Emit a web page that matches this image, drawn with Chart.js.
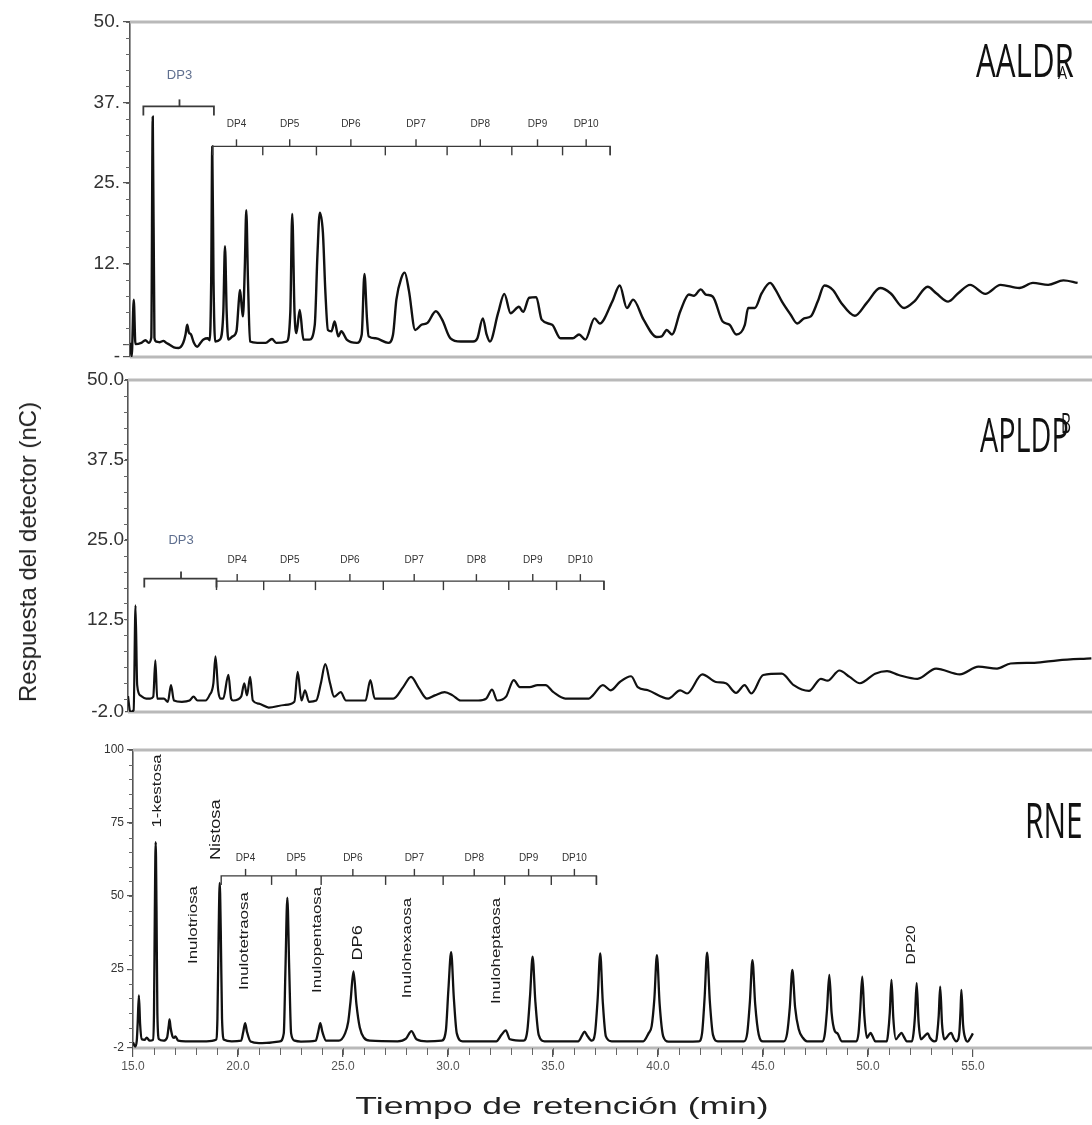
<!DOCTYPE html>
<html>
<head>
<meta charset="utf-8">
<title>Cromatogramas</title>
<script src="https://cdn.jsdelivr.net/npm/chart.js@4.4.1/dist/chart.umd.min.js"></script>
<style>
  body { margin: 0; background: #fff; }
  #page { position: relative; width: 1092px; height: 1125px; overflow: hidden; background: #fff; }
  canvas { position: absolute; left: 0; }
  .tag { position: absolute; font-family: 'Open Sans', sans-serif; color: #111; line-height: 1; transform-origin: 0 0; white-space: nowrap; }
  .title { position: absolute; font-family: 'Liberation Sans', Arial, sans-serif; color: #222; white-space: nowrap; line-height: 1; }
</style>
</head>
<body>
<div id="page">
  <canvas id="cA" width="1092" height="372" style="top:0px"></canvas>
  <canvas id="cB" width="1092" height="355" style="top:372px"></canvas>
  <canvas id="cC" width="1092" height="390" style="top:735px"></canvas>

  <div class="tag" style="left:976px;top:36px;font-size:46px;transform:scaleX(0.68)">AALDR</div>
  <div class="tag" style="left:1058px;top:63px;font-size:18px;transform:scaleX(0.8)">A</div>
  <div class="tag" style="left:980px;top:410px;font-size:48px;transform:scaleX(0.6)">APLDP</div>
  <div class="tag" style="left:1061px;top:408px;font-size:28px;transform:scaleX(0.55)">B</div>
  <div class="tag" style="left:1025px;top:795px;font-size:49px;transform:scaleX(0.61)">RNE</div>

  <div class="title" style="left:28px;top:552px;font-size:24px;transform:translate(-50%,-50%) rotate(-90deg)">Respuesta del detector (nC)</div>
  <div class="title" style="left:562px;top:1106px;font-size:24px;transform:translate(-50%,-50%) scaleX(1.48)">Tiempo de retención (min)</div>
</div>
<script>
// AALDR (panel superior)
const aaldrTime = [15.0, 15.08, 15.18, 15.26, 15.54, 15.74, 15.9, 16.02, 16.09, 16.17, 16.25, 16.43, 16.6, 16.73, 16.9, 17.1, 17.33, 17.55, 17.66, 17.74, 17.82, 17.92, 18.05, 18.22, 18.4, 18.52, 18.72, 18.82, 18.89, 18.94, 19.0, 19.08, 19.31, 19.47, 19.55, 19.63, 19.71, 19.91, 20.1, 20.22, 20.27, 20.36, 20.41, 20.5, 20.57, 20.65, 20.75, 21.1, 21.5, 21.8, 22.0, 22.5, 22.68, 22.77, 22.88, 22.97, 23.13, 23.31, 23.59, 23.85, 23.98, 24.09, 24.24, 24.36, 24.48, 24.65, 24.8, 24.98, 25.12, 25.38, 25.87, 26.1, 26.23, 26.35, 26.43, 26.77, 27.37, 27.6, 27.76, 28.0, 28.16, 28.36, 28.66, 28.96, 29.25, 29.65, 29.95, 30.35, 30.84, 31.44, 31.64, 31.9, 32.08, 32.24, 32.63, 32.93, 33.23, 33.63, 33.83, 34.12, 34.46, 34.72, 35.22, 35.62, 36.21, 36.51, 36.81, 37.25, 37.5, 38.1, 38.46, 38.8, 39.1, 39.6, 40.23, 40.47, 40.71, 40.96, 41.36, 41.77, 42.01, 42.34, 42.58, 42.91, 43.39, 43.72, 44.04, 44.45, 44.61, 44.93, 45.26, 45.66, 45.91, 46.23, 46.64, 46.96, 47.29, 47.61, 47.94, 48.26, 48.67, 49.07, 49.72, 50.29, 50.94, 51.43, 52.08, 52.56, 53.21, 53.62, 54.19, 54.67, 55.24, 55.97, 56.7, 57.6, 58.25, 58.98, 59.71, 60.39];
const aaldrResp = [0.2, -1.9, 6.9, 0.0, 0.2, 0.6, 0.2, 1.0, 35.3, 1.0, 0.4, 0.3, 0.5, 0.2, -0.1, -0.5, -0.6, 0.2, 1.5, 3.0, 1.8, 1.5, 0.3, -0.4, 0.3, 0.7, 0.9, 0.6, 10, 30.7, 10, 0.4, 0.7, 5, 15.2, 5, 0.7, 1.2, 2, 7, 8.4, 5.5, 4.3, 12, 20.8, 10, 0.4, 0.2, 0.2, 0.8, 0.2, 0.4, 5, 20.2, 5, 1.7, 5.3, 0.7, 0.7, 3, 14, 20.4, 17.3, 8, 2.2, 2.0, 3.5, 1.2, 2.0, 0.7, 0.2, 1.5, 10.9, 4, 1.2, 0.9, 0.2, 1.5, 6.9, 10.3, 11.1, 8.3, 2.2, 3.0, 3.3, 5.1, 3.8, 0.9, 0.4, 0.4, 0.9, 4.0, 1.5, 0.4, 4.8, 7.8, 4.8, 5.8, 5.0, 7.2, 7.3, 3.8, 3.0, 0.9, 0.9, 1.5, 0.7, 4.0, 3.2, 6.6, 9.1, 5.6, 6.9, 3.8, 1.1, 1.2, 2.2, 1.5, 5.1, 7.7, 7.5, 8.5, 7.7, 7.4, 3.5, 3.0, 1.5, 3.0, 5.6, 5.6, 7.9, 9.5, 8.5, 6.6, 4.6, 3.2, 4.0, 4.3, 6.6, 9.1, 8.4, 6.4, 4.4, 6.4, 8.7, 7.9, 5.6, 6.6, 8.9, 7.9, 6.6, 7.9, 9.2, 7.8, 9.2, 8.7, 9.5, 9.2, 9.9, 9.5];

// APLDP (panel central)
const apldpTime = [15.0, 15.11, 15.27, 15.36, 15.44, 15.59, 15.87, 16.06, 16.21, 16.31, 16.4, 16.72, 16.91, 17.06, 17.2, 17.58, 17.95, 18.14, 18.33, 18.71, 18.9, 19.09, 19.19, 19.32, 19.43, 19.56, 19.81, 19.94, 20.04, 20.42, 20.57, 20.7, 20.85, 20.98, 21.27, 21.74, 22.5, 22.97, 23.13, 23.31, 23.48, 23.67, 24.02, 24.24, 24.45, 24.68, 24.87, 25.19, 25.44, 26.38, 26.61, 26.82, 27.71, 28.18, 28.56, 28.94, 29.32, 29.7, 30.17, 30.55, 30.93, 31.78, 32.16, 32.44, 32.69, 33.11, 33.48, 33.77, 34.24, 34.62, 35.0, 35.38, 35.95, 36.7, 37.08, 37.27, 37.75, 38.13, 38.56, 39.1, 39.42, 39.91, 40.88, 41.45, 41.78, 42.51, 43.16, 43.64, 44.13, 44.54, 44.86, 45.43, 46.32, 46.89, 47.62, 48.19, 48.51, 49.08, 49.57, 50.06, 50.79, 51.36, 51.92, 52.82, 53.71, 54.85, 55.74, 56.63, 57.28, 58.42, 59.55, 61.15];
const apldpResp = [0.5, -2.0, -1.7, 14.7, 2.2, 0.6, 0.1, 0.1, 0.4, 6.1, 0.1, 0.1, -0.4, 2.2, -0.2, -0.4, -0.2, 0.4, -0.2, -0.2, 0.6, 2.5, 6.7, 1.4, 0.1, 0.1, 3.8, 0.1, -0.2, 0.4, 2.5, 0.6, 3.5, -0.2, -0.7, -1.3, -0.9, -0.4, 4.3, -0.2, 1.4, -0.4, -0.2, 2.5, 5.5, 2.5, 0.4, 1.1, -0.2, -0.2, 3.0, 0.1, 0.1, 1.9, 3.5, 1.7, 0.1, 0.6, 1.1, 0.6, -0.2, -0.2, 0.1, 1.5, -0.2, 0.4, 3.0, 1.9, 1.9, 2.2, 2.2, 1.1, 0.1, 0.1, 0.1, 0.6, 2.2, 1.4, 2.7, 3.6, 1.9, 1.4, 0.1, 1.4, 0.9, 3.9, 2.7, 2.5, 1.0, 2.2, 0.9, 3.8, 4.0, 2.2, 1.3, 3.2, 2.9, 4.5, 3.5, 2.5, 4.0, 4.4, 3.8, 3.2, 4.8, 3.9, 5.1, 4.8, 5.6, 5.7, 6.1, 6.4];

// RNE (panel inferior)
const rneTime = [
  15.0, 15.1, 15.18, 15.22, 15.28, 15.34, 15.42, 15.55, 15.65, 15.8, 15.95,
  16.0, 16.04, 16.08, 16.12, 16.16, 16.24, 16.45, 16.62, 16.7, 16.74, 16.79, 16.88, 16.95, 17.02, 17.15,
  17.5, 18.0, 18.5, 18.95, 19.02, 19.08, 19.13, 19.18, 19.24, 19.34, 19.7,
  20.15, 20.25, 20.34, 20.43, 20.6, 21.0, 21.5, 22.0, 22.18, 22.26, 22.35, 22.44, 22.53, 22.7,
  23.0, 23.7, 23.82, 23.92, 24.02, 24.2, 24.8, 25.1, 25.25, 25.36, 25.5, 25.64, 25.8, 26.0, 26.3,
  27.6, 28.0, 28.26, 28.5, 29.0, 29.7, 29.9, 30.02, 30.15, 30.28, 30.42, 30.7,
  32.3, 32.55, 32.75, 32.95, 33.6, 33.78, 33.91, 34.03, 34.16, 34.32, 34.6,
  36.2, 36.4, 36.5, 36.65, 36.85, 37.0, 37.13, 37.25, 37.37, 37.52, 37.8,
  39.3, 39.55, 39.7, 39.83, 39.95, 40.08, 40.25, 40.5,
  41.95, 42.1, 42.22, 42.34, 42.47, 42.62, 42.85,
  44.1, 44.25, 44.38, 44.5, 44.63, 44.8, 45.0,
  46.0, 46.15, 46.28, 46.4, 46.53, 46.7, 46.9, 47.1,
  47.85, 47.95, 48.05, 48.16, 48.27, 48.42, 48.55, 48.75,
  49.45, 49.55, 49.63, 49.73, 49.83, 49.95, 50.05, 50.13, 50.22, 50.35,
  50.9, 50.96, 51.04, 51.12, 51.21, 51.33, 51.5, 51.6, 51.7, 51.85,
  52.1, 52.17, 52.24, 52.32, 52.41, 52.52, 52.75, 52.85, 52.95, 53.15,
  53.25, 53.3, 53.37, 53.44, 53.53, 53.64, 53.88, 53.97, 54.07, 54.2,
  54.3, 54.36, 54.41, 54.45, 54.53, 54.65, 54.75, 54.88, 55.0
];
const rneResp = [
  0, -1.5, 0.5, 6, 16, 6, 1, 0.8, 1.5, 0.5, 0.8,
  10, 45, 68.5, 45, 10, 1, 0.5, 1.5, 5.5, 7.8, 5, 2, 1.5, 2, 0.5,
  0.3, 0.3, 0.3, 0.8, 8, 38, 54.5, 38, 8, 0.8, 0.3,
  0.5, 3.5, 6.5, 3.5, 0.2, -0.3, -0.2, 0.3, 3, 25, 49.5, 25, 3, 0.5,
  0.2, 0.5, 3.5, 6.5, 3.5, 0.5, 0.5, 3, 7, 14, 24.2, 13, 5, 1.5, 0.5,
  0.3, 1.2, 3.8, 1, 0.3, 0.5, 4, 18, 30.8, 15, 3, 0.3,
  0.3, 2.5, 4, 1, 0.5, 4, 16, 29.3, 14, 2.5, 0.3,
  0.3, 2.5, 3.6, 2, 0.5, 3, 15, 30.4, 14, 2, 0.3,
  0.3, 3, 5.5, 15, 29.8, 13, 2, 0.2,
  0.3, 3, 15, 30.6, 14, 2.5, 0.3,
  0.3, 3, 14, 28.1, 13, 2.5, 0.3,
  0.3, 3, 12, 24.7, 12, 4.5, 1.5, 0.3,
  0.3, 3, 11, 23, 10, 3.8, 3, 0.3,
  0.3, 3, 11, 22.4, 9, 1.5, 2.5, 3.2, 2, 0.3,
  0.3, 3, 10, 21.3, 8, 1, 2.5, 3.2, 2, 0.3,
  0.3, 3, 9, 20.2, 7, 1, 2.5, 3, 1.5, 0.3,
  0.5, 3, 9, 19, 6, 1, 2.8, 3.2, 1.5, 0.3,
  1, 4, 11, 17.9, 6, 1, 0.2, 1.5, 3
];

// ejes
const aaldrYTicks = [-2, 0, 12.5, 25, 37.5, 50];
const aaldrYLabels = ['-', '', '12.', '25.', '37.', '50.'];
const apldpYTicks = [-2, 12.5, 25, 37.5, 50];
const apldpYLabels = ['-2.0', '12.5', '25.0', '37.5', '50.0'];
const rneYTicks = [-2, 25, 50, 75, 100];
const rneYLabels = ['-2', '25', '50', '75', '100'];
const rneXTicks = [15, 20, 25, 30, 35, 40, 45, 50, 55];
const rneXLabels = ['15.0', '20.0', '25.0', '30.0', '35.0', '40.0', '45.0', '50.0', '55.0'];

// grupos DP (corchetes)
const dpNames = ['DP4', 'DP5', 'DP6', 'DP7', 'DP8', 'DP9', 'DP10'];
const aaldrDpMid = [20.1, 22.65, 25.58, 28.7, 31.78, 34.52, 36.85];
const aaldrDpDiv = [21.36, 23.93, 27.23, 30.19, 33.29, 35.72, 38.0];
const apldpDpMid = [20.23, 22.75, 25.63, 28.71, 31.69, 34.39, 36.67];
const apldpDpDiv = [21.5, 23.98, 27.23, 30.11, 33.24, 35.53, 37.8];
const rneDpMid = [20.36, 22.77, 25.47, 28.4, 31.25, 33.84, 36.02];
const rneDpDiv = [21.6, 23.96, 27.03, 29.77, 32.7, 34.92, 37.07];

// nombres de picos (RNE)
const rnePeakNames = ['1-kestosa', 'Nistosa', 'Inulotriosa', 'Inulotetraosa', 'Inulopentaosa', 'DP6', 'Inulohexaosa', 'Inuloheptaosa', 'DP20'];
const rnePeakTime = [16.14, 18.94, 17.9, 20.3, 23.77, 25.7, 28.07, 32.33, 52.1];
const rnePeakLevel = [86, 72.7, 40.1, 34.6, 35, 34, 32.2, 31.2, 33.3];

const narrow = "'Liberation Sans Narrow', 'Liberation Sans', Arial, sans-serif";

// anotaciones por panel
const annots = {
  cA: {
    minorY: 2.5,
    brackets: [
      { start: 15.64, end: 19.02, level: 36.9, mids: [17.37], divs: [], names: ['DP3'], nameLevel: 41.7, big: true },
      { start: 18.96, end: 38.0, level: 30.7, mids: aaldrDpMid, divs: aaldrDpDiv, names: dpNames, nameLevel: 34.2 }
    ]
  },
  cB: {
    minorY: 2.5,
    brackets: [
      { start: 15.78, end: 19.24, level: 18.9, mids: [17.54], divs: [], names: ['DP3'], nameLevel: 24.9, big: true },
      { start: 19.24, end: 37.8, level: 18.5, mids: apldpDpMid, divs: apldpDpDiv, names: dpNames, nameLevel: 21.75 }
    ]
  },
  cC: {
    minorY: 5,
    minorX: 1,
    brackets: [
      { start: 19.2, end: 37.07, level: 56.9, mids: rneDpMid, divs: rneDpDiv, names: dpNames, nameLevel: 63 }
    ],
    peaks: true
  }
};

const annotPlugin = {
  id: 'chromAnnot',
  beforeDatasetsDraw(chart) {
    const a = annots[chart.canvas.id];
    const { ctx, chartArea: ca, scales: { x, y } } = chart;
    ctx.save();
    // lineas grises de marco arriba y abajo
    ctx.strokeStyle = '#b9b9b9';
    ctx.lineWidth = 3;
    [ca.top, ca.bottom].forEach(py => {
      ctx.beginPath(); ctx.moveTo(ca.left, py); ctx.lineTo(ca.right, py); ctx.stroke();
    });
    // marcas menores eje y
    ctx.strokeStyle = '#666';
    ctx.lineWidth = 1;
    for (let v = 0; v <= y.max; v += a.minorY) {
      const py = Math.round(y.getPixelForValue(v)) + 0.5;
      ctx.beginPath(); ctx.moveTo(ca.left - 4, py); ctx.lineTo(ca.left, py); ctx.stroke();
    }
    // marcas menores eje x
    if (a.minorX) {
      for (let t = 16; t < 55; t += a.minorX) {
        const px = Math.round(x.getPixelForValue(t)) + 0.5;
        ctx.beginPath(); ctx.moveTo(px, ca.bottom); ctx.lineTo(px, ca.bottom + 7); ctx.stroke();
      }
    }
    ctx.restore();
  },
  afterDatasetsDraw(chart) {
    const a = annots[chart.canvas.id];
    const { ctx, scales: { x, y } } = chart;
    ctx.save();
    a.brackets.forEach(b => {
      const py = y.getPixelForValue(b.level);
      ctx.strokeStyle = '#3a3a3a';
      ctx.lineWidth = b.big ? 1.8 : 1.4;
      ctx.beginPath();
      ctx.moveTo(x.getPixelForValue(b.start), py + 9);
      ctx.lineTo(x.getPixelForValue(b.start), py);
      ctx.lineTo(x.getPixelForValue(b.end), py);
      ctx.lineTo(x.getPixelForValue(b.end), py + 9);
      ctx.stroke();
      b.divs.forEach(t => {
        const px = x.getPixelForValue(t);
        ctx.beginPath(); ctx.moveTo(px, py); ctx.lineTo(px, py + 9); ctx.stroke();
      });
      b.mids.forEach((t, i) => {
        const px = x.getPixelForValue(t);
        ctx.beginPath(); ctx.moveTo(px, py); ctx.lineTo(px, py - 7); ctx.stroke();
        ctx.fillStyle = b.big ? '#5f6f8f' : '#333';
        ctx.font = (b.big ? '13px ' : '10px ') + narrow;
        ctx.textAlign = 'center';
        ctx.textBaseline = 'middle';
        ctx.fillText(b.names[i], px, y.getPixelForValue(b.nameLevel));
      });
    });
    if (a.peaks) {
      rnePeakNames.forEach((name, i) => {
        const px = x.getPixelForValue(rnePeakTime[i]);
        const py = y.getPixelForValue(rnePeakLevel[i]);
        const bold = name === 'Nistosa' || name === 'DP6';
        ctx.save();
        ctx.translate(px, py);
        ctx.rotate(-Math.PI / 2);
        ctx.scale(1.3, 1);
        ctx.fillStyle = '#1a1a1a';
        ctx.font = (bold ? '14px ' : (name === 'DP20' ? '12px ' : '13px ')) + 'Liberation Sans, Arial, sans-serif';
        ctx.textAlign = 'center';
        ctx.textBaseline = 'middle';
        ctx.fillText(name, 0, 0);
        ctx.restore();
      });
    }
    ctx.restore();
  }
};

function makePanel(id, times, resp, o) {
  const data = times.map((t, i) => ({ x: t, y: resp[i] }));
  const yScale = {
    type: 'linear', min: o.yMin, max: o.yMax,
    afterBuildTicks: s => { s.ticks = o.yTicks.map(v => ({ value: v })); },
    afterFit: s => { s.width = o.left; s.paddingTop = 0; s.paddingBottom = 0; },
    ticks: {
      autoSkip: false, padding: o.yPad, color: '#333',
      font: { family: narrow, size: o.yFont },
      callback: (v, i) => o.yLabels[i]
    },
    grid: { display: true, drawOnChartArea: false, drawTicks: true, tickLength: o.yTickLen, color: '#555', lineWidth: 1.2 },
    border: { display: true, color: '#555', width: 1.6 }
  };
  let xScale = { type: 'linear', min: 15, max: o.xMax, display: false };
  if (o.xTicks) {
    xScale = {
      type: 'linear', min: 15, max: o.xMax,
      afterBuildTicks: s => { s.ticks = o.xTicks.map(v => ({ value: v })); },
      afterFit: s => { s.height = 30; s.paddingLeft = 0; s.paddingRight = 0; },
      ticks: {
        autoSkip: false, maxRotation: 0, padding: 2, color: '#555',
        font: { family: narrow, size: 12 },
        callback: (v, i) => o.xLabels[i]
      },
      grid: { display: true, drawOnChartArea: false, drawTicks: true, tickLength: 9, color: '#555', lineWidth: 1.2 },
      border: { display: false }
    };
  }
  return new Chart(document.getElementById(id), {
    type: 'line',
    data: {
      datasets: [{
        data, borderColor: '#111', borderWidth: o.lineWidth, pointRadius: 0,
        cubicInterpolationMode: 'monotone', fill: false
      }]
    },
    options: {
      responsive: false, animation: false, devicePixelRatio: 1,
      layout: { padding: { top: o.padTop, bottom: o.padBottom, left: 0, right: 0 } },
      plugins: { legend: { display: false }, tooltip: { enabled: false } },
      scales: { x: xScale, y: yScale }
    },
    plugins: [annotPlugin]
  });
}

makePanel('cA', aaldrTime, aaldrResp, {
  left: 130, xMax: 61.08, yMin: -2, yMax: 50, yTicks: aaldrYTicks, yLabels: aaldrYLabels,
  yFont: 19, yPad: 3, yTickLen: 7, padTop: 22, padBottom: 15, lineWidth: 2.4
});
makePanel('cB', apldpTime, apldpResp, {
  left: 128, xMax: 61.18, yMin: -2, yMax: 50, yTicks: apldpYTicks, yLabels: apldpYLabels,
  yFont: 19, yPad: 1, yTickLen: 3, padTop: 8, padBottom: 15, lineWidth: 2.2
});
makePanel('cC', rneTime, rneResp, {
  left: 133, xMax: 60.67, yMin: -2, yMax: 100, yTicks: rneYTicks, yLabels: rneYLabels,
  yFont: 12, yPad: 3, yTickLen: 6, padTop: 15, padBottom: 47, lineWidth: 2.3,
  xTicks: rneXTicks, xLabels: rneXLabels
});
</script>
</body>
</html>
